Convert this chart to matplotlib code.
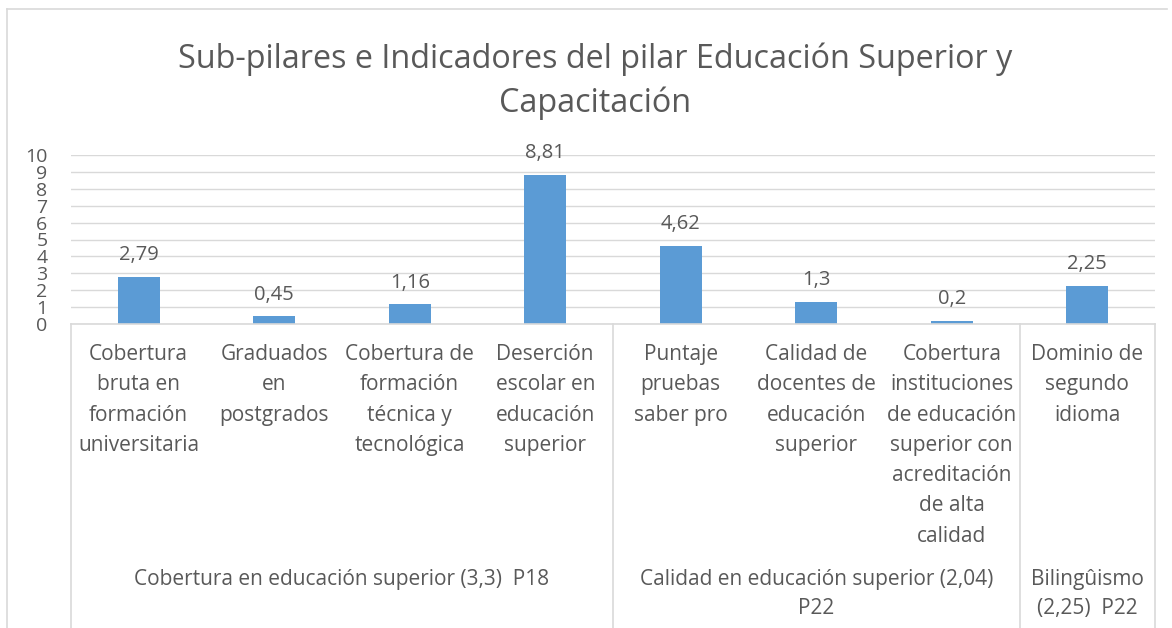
import matplotlib
matplotlib.use("Agg")
import matplotlib.pyplot as plt
from matplotlib.transforms import blended_transform_factory
from matplotlib.lines import Line2D

# ---- data ----
categories = [
    "Cobertura\nbruta en\nformación\nuniversitaria",
    "Graduados\nen\npostgrados",
    "Cobertura de\nformación\ntécnica y\ntecnológica",
    "Deserción\nescolar en\neducación\nsuperior",
    "Puntaje\npruebas\nsaber pro",
    "Calidad de\ndocentes de\neducación\nsuperior",
    "Cobertura\ninstituciones\nde educación\nsuperior con\nacreditación\nde alta\ncalidad",
    "Dominio de\nsegundo\nidioma",
]
values = [2.79, 0.45, 1.16, 8.81, 4.62, 1.3, 0.2, 2.25]
value_labels = ["2,79", "0,45", "1,16", "8,81", "4,62", "1,3", "0,2", "2,25"]
groups = [
    "Cobertura en educación superior (3,3)  P18",
    "Calidad en educación superior (2,04)\nP22",
    "Bilingûismo\n(2,25)  P22",
]
group_sizes = [4, 3, 1]
yticks = list(range(0, 11))
title = "Sub-pilares e Indicadores del pilar Educación Superior y\nCapacitación"

# ---- style ----
W, H = 1172, 628
TXT = "#595959"
GRID = "#D9D9D9"
BAR = "#5B9BD5"
plt.rcParams["font.family"] = ["Open Sans", "DejaVu Sans"]

fig = plt.figure(figsize=(W / 100, H / 100), dpi=100)

# outer chart border (top and left visible)
fig.add_artist(Line2D([7 / W, 7 / W], [0, 1 - 9 / H], color=GRID, lw=1.2,
                      transform=fig.transFigure))
fig.add_artist(Line2D([7 / W, 1167 / W], [1 - 9 / H, 1 - 9 / H], color=GRID, lw=1.2,
                      transform=fig.transFigure))

x0, x1, y_top, y_zero = 71, 1155, 155, 324
ax = fig.add_axes([x0 / W, 1 - y_zero / H, (x1 - x0) / W, (y_zero - y_top) / H])
xs = list(range(len(values)))
ax.bar(xs, values, width=0.31, color=BAR, zorder=3)
ax.set_xlim(-0.5, len(values) - 0.5)
ax.set_ylim(0, 10)
ax.set_yticks(yticks)
ax.set_yticklabels([str(t) for t in yticks], fontsize=14, color=TXT)
ax.tick_params(axis="y", length=0, pad=17)
ax.set_xticks([])
ax.grid(axis="y", color=GRID, lw=1, zorder=0)
for s in ("left", "right", "top"):
    ax.spines[s].set_visible(False)
ax.spines["bottom"].set_color(GRID)
ax.spines["bottom"].set_linewidth(1.2)
ax.spines["bottom"].set_zorder(4)

for xi, v, lab in zip(xs, values, value_labels):
    ax.annotate(lab, (xi, v), xytext=(0, 12), textcoords="offset points",
                ha="center", va="baseline", fontsize=14.5, color=TXT)

plot_h = y_zero - y_top
def ay(py):
    return (y_zero - py) / plot_h

tr = blended_transform_factory(ax.transData, ax.transAxes)
for xi, lab in zip(xs, categories):
    ax.text(xi, ay(344), lab, transform=tr, ha="center", va="top",
            fontsize=15, color=TXT, linespacing=1.58, clip_on=False)

# group separators and labels
bounds = [-0.5]
for n in group_sizes:
    bounds.append(bounds[-1] + n)
for b in bounds:
    ax.plot([b, b], [0, ay(H)], transform=tr, color=GRID, lw=1.2, clip_on=False)
for g, a, b in zip(groups, bounds[:-1], bounds[1:]):
    ax.text((a + b) / 2, ay(569), g, transform=tr, ha="center", va="top",
            fontsize=15, color=TXT, linespacing=1.5, clip_on=False)

fig.text(0.508, 1 - 42 / H, title, ha="center", va="top", fontsize=23.3,
         color=TXT, linespacing=1.45)

fig.savefig("out.png", dpi=100, facecolor="white")
